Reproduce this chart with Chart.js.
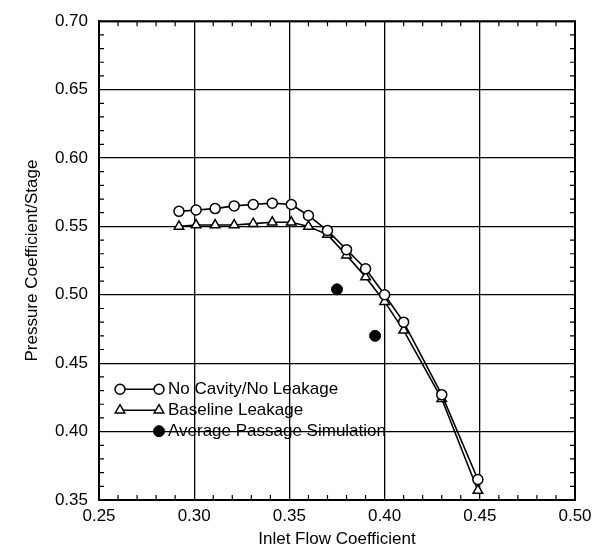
<!DOCTYPE html>
<html>
<head>
<meta charset="utf-8">
<script src="https://cdn.jsdelivr.net/npm/chart.js@4"></script>
<style>
html,body{margin:0;padding:0;background:#fff;}
#wrap{width:602px;height:553px;}
</style>
</head>
<body>
<div id="wrap"><canvas id="c" width="602" height="553"></canvas></div>
<script>
// ---- data ----
const flowCoeff = [0.292, 0.301, 0.311, 0.321, 0.331, 0.341, 0.351, 0.360, 0.370, 0.380, 0.390, 0.400, 0.410, 0.430, 0.449];
const noCavity  = [0.561, 0.562, 0.563, 0.565, 0.566, 0.567, 0.566, 0.558, 0.547, 0.533, 0.519, 0.500, 0.480, 0.427, 0.365];
const baseline  = [0.550, 0.551, 0.551, 0.551, 0.552, 0.553, 0.553, 0.550, 0.544, 0.529, 0.513, 0.495, 0.474, 0.424, 0.357];
const simFlow   = [0.375, 0.395];
const simPress  = [0.504, 0.470];
const seriesNames = ['No Cavity/No Leakage', 'Baseline Leakage', 'Average Passage Simulation'];
const xTicks = [0.25, 0.30, 0.35, 0.40, 0.45, 0.50];
const yTicks = [0.35, 0.40, 0.45, 0.50, 0.55, 0.60, 0.65, 0.70];
const xTitle = 'Inlet Flow Coefficient';
const yTitle = 'Pressure Coefficient/Stage';

const FONT = '"Liberation Sans", Arial, Helvetica, sans-serif';
const toPts = (xs, ys) => xs.map((x, i) => ({x: x, y: ys[i]}));

const frameAndMinor = {
  id: 'frameAndMinor',
  afterDatasetsDraw(chart) {
    const {ctx, chartArea: a, scales: {x, y}} = chart;
    ctx.save();
    ctx.strokeStyle = '#000';
    ctx.lineWidth = 1.2;
    const L = 5;
    ctx.beginPath();
    for (let i = 25; i <= 50; i++) {
      if (i % 5 === 0) continue;
      const px = x.getPixelForValue(i / 100);
      ctx.moveTo(px, a.bottom); ctx.lineTo(px, a.bottom - L);
      ctx.moveTo(px, a.top); ctx.lineTo(px, a.top + L);
    }
    for (let i = 35; i <= 70; i++) {
      if (i % 5 === 0) continue;
      const py = y.getPixelForValue(i / 100);
      ctx.moveTo(a.left, py); ctx.lineTo(a.left + L, py);
      ctx.moveTo(a.right, py); ctx.lineTo(a.right - L, py);
    }
    ctx.stroke();
    ctx.lineWidth = 2;
    ctx.strokeRect(a.left, a.top, a.right - a.left, a.bottom - a.top);
    ctx.restore();
  }
};

const inLegend = {
  id: 'inLegend',
  afterDraw(chart) {
    const {ctx, chartArea: a} = chart;
    ctx.save();
    const x1 = a.left + 21, x2 = a.left + 60;
    const rows = [a.top + 368, a.top + 389, a.top + 410];
    chart.data.datasets.forEach((ds, i) => {
      const yy = rows[i];
      ctx.strokeStyle = '#000';
      ctx.lineWidth = 1.5;
      if (ds.showLine) {
        ctx.beginPath(); ctx.moveTo(x1, yy); ctx.lineTo(x2, yy); ctx.stroke();
      }
      const opts = {pointStyle: ds.pointStyle, radius: ds.pointRadius, borderWidth: ds.pointBorderWidth || 1.5};
      ctx.fillStyle = ds.pointBackgroundColor;
      ctx.strokeStyle = '#000';
      ctx.lineWidth = opts.borderWidth;
      if (ds.showLine) Chart.helpers.drawPoint(ctx, opts, x1, yy);
      ctx.fillStyle = ds.pointBackgroundColor;
      Chart.helpers.drawPoint(ctx, opts, x2, yy);
      ctx.fillStyle = '#000';
      ctx.font = '17px ' + FONT;
      ctx.textBaseline = 'middle';
      ctx.textAlign = 'left';
      ctx.fillText(ds.label, x2 + 9, yy);
    });
    ctx.restore();
  }
};

new Chart(document.getElementById('c'), {
  type: 'scatter',
  data: {
    datasets: [
      {
        label: seriesNames[0], data: toPts(flowCoeff, noCavity), showLine: true,
        borderColor: '#000', borderWidth: 1.6, pointStyle: 'circle', pointRadius: 5,
        pointBackgroundColor: '#fff', pointBorderColor: '#000', pointBorderWidth: 1.5
      },
      {
        label: seriesNames[1], data: toPts(flowCoeff, baseline), showLine: true,
        borderColor: '#000', borderWidth: 1.6, pointStyle: 'triangle', pointRadius: 5.5,
        pointBackgroundColor: '#fff', pointBorderColor: '#000', pointBorderWidth: 1.5
      },
      {
        label: seriesNames[2], data: toPts(simFlow, simPress), showLine: false,
        pointStyle: 'circle', pointRadius: 5.5,
        pointBackgroundColor: '#000', pointBorderColor: '#000', pointBorderWidth: 1
      }
    ]
  },
  options: {
    responsive: false,
    animation: false,
    devicePixelRatio: 1,
    layout: {padding: {left: 0, right: 27, top: 19, bottom: 0}},
    plugins: {legend: {display: false}, tooltip: {enabled: false}},
    scales: {
      x: {
        type: 'linear', min: 0.25, max: 0.50,
        afterBuildTicks: s => { s.ticks = xTicks.map(v => ({value: v})); },
        afterFit: s => { s.height = 53; },
        grid: {color: '#000', lineWidth: 1.3, drawTicks: false},
        border: {display: true, color: '#000', width: 2},
        ticks: {color: '#000', font: {family: FONT, size: 17}, padding: 6, maxRotation: 0,
                callback: v => Number(v).toFixed(2)},
        title: {display: true, text: xTitle, color: '#000', font: {family: FONT, size: 17}, padding: {top: 2, bottom: 3}}
      },
      y: {
        type: 'linear', min: 0.35, max: 0.70,
        afterBuildTicks: s => { s.ticks = yTicks.map(v => ({value: v})); },
        afterFit: s => { s.width = 99; },
        grid: {color: '#000', lineWidth: 1.3, drawTicks: false},
        border: {display: true, color: '#000', width: 2},
        ticks: {color: '#000', font: {family: FONT, size: 17}, padding: 11,
                callback: v => Number(v).toFixed(2)},
        title: {display: true, text: yTitle, color: '#000', font: {family: FONT, size: 17}, padding: {top: 22, bottom: 22}}
      }
    }
  },
  plugins: [frameAndMinor, inLegend]
});
</script>
</body>
</html>
